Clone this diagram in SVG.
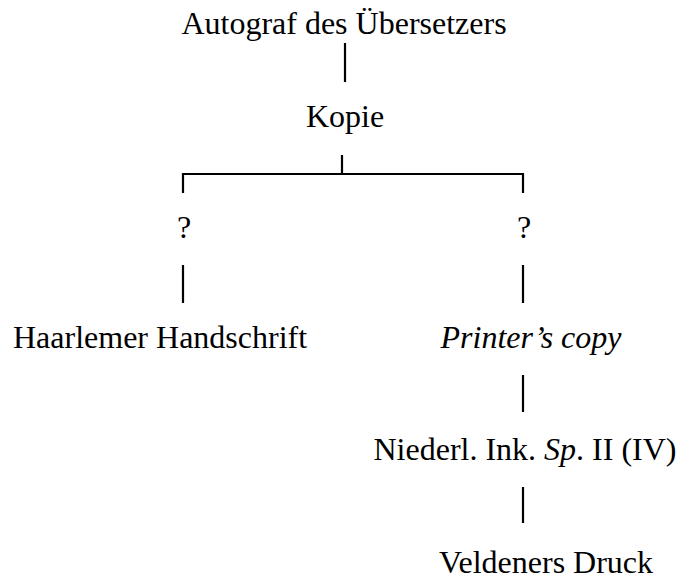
<svg xmlns="http://www.w3.org/2000/svg" width="680" height="581" viewBox="0 0 680 581">
<style>
text{font-family:"Liberation Serif","Times New Roman",serif;font-size:32px;fill:#000}
.m{text-anchor:middle}
.i{font-style:italic}
#connectors line,#connectors path{stroke:#000;stroke-width:2.2;fill:none}
</style>
<rect width="680" height="581" fill="#fff"/>
<g id="connectors">
<line x1="345" y1="43" x2="345" y2="82"/>
<line x1="342" y1="155" x2="342" y2="174"/>
<path d="M183 193 V174 H523 V193"/>
<line x1="183" y1="265" x2="183" y2="303"/>
<line x1="523" y1="265" x2="523" y2="303"/>
<line x1="523" y1="375" x2="523" y2="412"/>
<line x1="523" y1="487" x2="523" y2="523"/>
</g>
<g id="n-autograf"><text class="m" x="344" y="34">Autograf des Übersetzers</text></g>
<g id="n-kopie"><text class="m" x="345" y="127">Kopie</text></g>
<g id="n-q1"><text class="m" x="184" y="238">?</text></g>
<g id="n-q2"><text class="m" x="524" y="238">?</text></g>
<g id="n-haarlem"><text x="13" y="348">Haarlemer Handschrift</text></g>
<g id="n-printer"><text class="m i" x="531" y="348">Printer’s copy</text></g>
<g id="n-niederl"><text class="m" x="525" y="460">Niederl. Ink. <tspan class="i">Sp</tspan>. II (IV)</text></g>
<g id="n-veldener"><text class="m" x="546" y="573">Veldeners Druck</text></g>
</svg>
